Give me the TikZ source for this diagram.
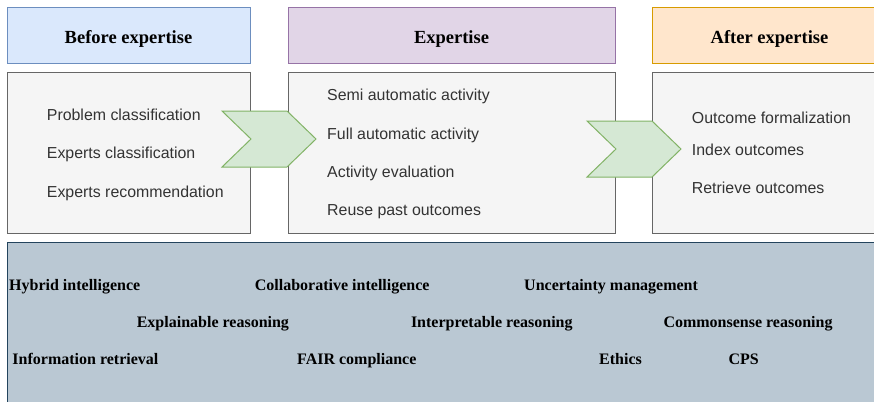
\documentclass[tikz,border=0pt]{standalone}
\usepackage{fontspec}
\setmainfont{Liberation Serif}
\setsansfont{Liberation Sans}
\usetikzlibrary{positioning}
\definecolor{beforefill}{HTML}{DAE8FC}
\definecolor{beforeline}{HTML}{6C8EBF}
\definecolor{expfill}{HTML}{E1D5E7}
\definecolor{expline}{HTML}{9673A6}
\definecolor{afterfill}{HTML}{FFE6CC}
\definecolor{afterline}{HTML}{D79B00}
\definecolor{panelfill}{HTML}{F5F5F5}
\definecolor{panelline}{HTML}{666666}
\definecolor{itemtext}{HTML}{333333}
\definecolor{chevfill}{HTML}{D5E8D4}
\definecolor{chevline}{HTML}{82B366}
\definecolor{basefill}{HTML}{BAC8D3}
\definecolor{baseline}{HTML}{23445D}

\begin{document}
\begin{tikzpicture}[
    x=1pt, y=-1pt,
    head/.style={rectangle, line width=1pt, inner sep=0pt, minimum height=56pt,
                 text height=16pt, text depth=0pt,
                 font=\fontsize{18.5}{22}\selectfont\bfseries},
    panel/.style={rectangle, draw=panelline, fill=panelfill, line width=1pt,
                  inner sep=0pt, minimum height=160pt},
    item/.style={anchor=base west, inner sep=0pt, text=itemtext,
                 font=\sffamily\fontsize{15.9}{19}\selectfont},
    topic/.style={anchor=base west, inner sep=0pt,
                  font=\fontsize{16}{19}\selectfont\bfseries},
    chev/.style={draw=chevline, fill=chevfill, line width=1pt}
  ]
    \clip (0,0) rectangle (874,401);
    \fill[white] (0,0) rectangle (874,401);

    % stage headers
    \node[head, draw=beforeline, fill=beforefill, minimum width=243pt] (hbefore) at (128.5,36) {Before expertise};
    \node[head, draw=expline, fill=expfill, minimum width=327pt]       (hexp)    at (451.5,36) {Expertise};
    \node[head, draw=afterline, fill=afterfill, minimum width=235pt]   (hafter)  at (769.5,36) {After expertise};

    % stage panels
    \node[panel, minimum width=243pt] (pbefore) at (128.5,153) {};
    \node[panel, minimum width=327pt] (pexp)    at (451.5,153) {};
    \node[panel, minimum width=235pt] (pafter)  at (769.5,153) {};

    \node[item] (probcls)  at (46.7,121)  {Problem classification};
    \node[item] (expcls)   at (46.7,158)  {Experts classification};
    \node[item] (exprec)   at (46.7,197)  {Experts recommendation};

    \node[item] (semiauto) at (327,100.7) {Semi automatic activity};
    \node[item] (fullauto) at (327,139.3) {Full automatic activity};
    \node[item] (acteval)  at (327,177.7) {Activity evaluation};
    \node[item] (reuse)    at (327,215)   {Reuse past outcomes};

    \node[item] (outform)  at (691.7,123.3) {Outcome formalization};
    \node[item] (indexout) at (691.7,155)   {Index outcomes};
    \node[item] (retrout)  at (691.7,193.3) {Retrieve outcomes};

    % chevrons between the stages
    \draw[chev] (222,111) -- (287,111) -- (316,139) -- (287,167) -- (222,167) -- (251,139) -- cycle;
    \draw[chev] (587,121) -- (652,121) -- (681,149) -- (652,177) -- (587,177) -- (616,149) -- cycle;

    % cross-cutting topics
    \node[rectangle, draw=baseline, fill=basefill, line width=1pt, inner sep=0pt,
          minimum width=893pt, minimum height=178pt] (topics) at (453.5,331) {};

    \node[topic] (hybrid)  at (9,290)     {Hybrid intelligence};
    \node[topic] (collab)  at (254.7,290) {Collaborative intelligence};
    \node[topic] (uncert)  at (524,290)   {Uncertainty management};
    \node[topic] (explain) at (136.6,327) {Explainable reasoning};
    \node[topic] (interp)  at (410.8,327) {Interpretable reasoning};
    \node[topic] (common)  at (663.3,327) {Commonsense reasoning};
    \node[topic] (inforet) at (12.3,364)  {Information retrieval};
    \node[topic] (fair)    at (297,364)   {FAIR compliance};
    \node[topic] (ethics)  at (599,364)   {Ethics};
    \node[topic] (cps)     at (728.3,364) {CPS};
\end{tikzpicture}
\end{document}
